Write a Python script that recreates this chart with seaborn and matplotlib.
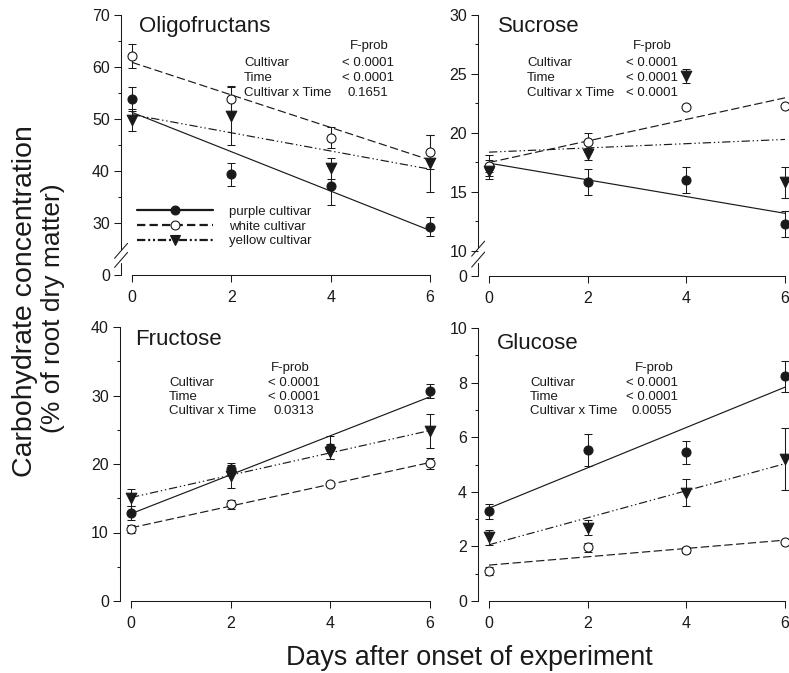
import numpy as np
import pandas as pd
import seaborn as sns
import matplotlib.pyplot as plt
from matplotlib.lines import Line2D

# 读图得到的数据：均值和误差
days = [0, 2, 4, 6]
cultivars = ['purple cultivar', 'white cultivar', 'yellow cultivar']
effects = ['Cultivar', 'Time', 'Cultivar x Time']

oligo_purple = [53.8, 39.4, 37.2, 29.3]
oligo_white = [62.1, 53.8, 46.4, 43.7]
oligo_yellow = [49.8, 50.6, 40.5, 41.5]
oligo_purple_se = [2.3, 2.2, 3.7, 1.8]
oligo_white_se = [2.3, 2.5, 2.0, 3.3]
oligo_yellow_se = [2.2, 5.6, 2.0, 5.5]
oligo_fprob = ['< 0.0001', '< 0.0001', '0.1651']

sucrose_purple = [17.1, 15.8, 16.0, 12.3]
sucrose_white = [17.2, 19.2, 22.2, 22.3]
sucrose_yellow = [16.8, 18.2, 24.8, 15.8]
sucrose_purple_se = [1.0, 1.1, 1.1, 1.1]
sucrose_white_se = [0.5, 0.8, 0.1, 0.1]
sucrose_yellow_se = [0.5, 0.5, 0.6, 1.3]
sucrose_fprob = ['< 0.0001', '< 0.0001', '< 0.0001']

fructose_purple = [12.8, 19.2, 22.4, 30.7]
fructose_white = [10.5, 14.1, 17.1, 20.1]
fructose_yellow = [15.1, 18.3, 21.8, 24.8]
fructose_purple_se = [1.0, 0.7, 1.7, 1.0]
fructose_white_se = [0.6, 0.6, 0.3, 0.8]
fructose_yellow_se = [1.2, 1.8, 1.1, 2.5]
fructose_fprob = ['< 0.0001', '< 0.0001', '0.0313']

glucose_purple = [3.28, 5.52, 5.44, 8.23]
glucose_white = [1.10, 1.97, 1.87, 2.15]
glucose_yellow = [2.33, 2.68, 3.97, 5.20]
glucose_purple_se = [0.27, 0.58, 0.43, 0.57]
glucose_white_se = [0.15, 0.17, 0.10, 0.08]
glucose_yellow_se = [0.27, 0.27, 0.50, 1.12]
glucose_fprob = ['< 0.0001', '< 0.0001', '0.0055']


def long_table(means, ses):
    rows = []
    for c, m, s in zip(cultivars, means, ses):
        for d, v, e in zip(days, m, s):
            rows.append({'day': d, 'value': v, 'se': e, 'cultivar': c})
    return pd.DataFrame(rows)


sns.set_theme(style='ticks')
plt.rcParams['font.family'] = ['Liberation Sans', 'DejaVu Sans']
plt.rcParams['lines.scale_dashes'] = False
plt.rcParams['xtick.color'] = 'k'
plt.rcParams['ytick.color'] = 'k'
plt.rcParams['axes.edgecolor'] = 'k'
plt.rcParams['text.color'] = 'k'
plt.rcParams['axes.labelcolor'] = 'k'

W, H = 789, 673
fig = plt.figure(figsize=(W / 100, H / 100), dpi=100)


def fx(x):
    return x / W


def fy(y):
    return 1 - y / H


styles = {
    'purple cultivar': dict(face='k', dashes=None, marker='o', s=42, leg_dash=None, ms=6.4),
    'white cultivar': dict(face='white', dashes=(6, 2.5), marker='o', s=42, leg_dash=(6, 3), ms=6.4),
    'yellow cultivar': dict(face='k', dashes=(6, 2, 1, 2, 1, 2), marker='v', s=58,
                            leg_dash=(6, 2, 1.5, 2, 1.5, 2), ms=7.2),
}

# 每个子图的位置、坐标轴和文字
panels = [
    dict(title='Oligofructans', data=long_table([oligo_purple, oligo_white, oligo_yellow],
                                                [oligo_purple_se, oligo_white_se, oligo_yellow_se]),
         fprob=oligo_fprob, x0=132, x6=430, top=15, bot=275, ylim=(20, 70),
         yticks=[20, 30, 40, 50, 60, 70], ylabels=['0', '30', '40', '50', '60', '70'],
         yminor=[35, 45, 55, 65], brk=(25.0, 22.25, 24.65, 22.9),
         title_xy=(139, 31.7), head=(369, 49.5), lab_x=244, val_x=368, rows=(66.5, 81, 95.5)),
    dict(title='Sucrose', data=long_table([sucrose_purple, sucrose_white, sucrose_yellow],
                                          [sucrose_purple_se, sucrose_white_se, sucrose_yellow_se]),
         fprob=sucrose_fprob, x0=489, x6=785, top=15, bot=276, ylim=(7.85, 30),
         yticks=[7.85, 10, 15, 20, 25, 30], ylabels=['0', '10', '15', '20', '25', '30'],
         yminor=[12.5, 17.5, 22.5, 27.5], brk=(10.34, 8.98, 10.17, 9.24),
         title_xy=(498, 32.3), head=(652, 49.5), lab_x=527, val_x=652, rows=(66.5, 81, 95.5)),
    dict(title='Fructose', data=long_table([fructose_purple, fructose_white, fructose_yellow],
                                           [fructose_purple_se, fructose_white_se, fructose_yellow_se]),
         fprob=fructose_fprob, x0=131, x6=430, top=327, bot=601, ylim=(0, 40),
         yticks=[0, 10, 20, 30, 40], ylabels=['0', '10', '20', '30', '40'],
         yminor=[5, 15, 25, 35], brk=None,
         title_xy=(135, 345), head=(290, 371), lab_x=169, val_x=294, rows=(386, 400.5, 414.5)),
    dict(title='Glucose', data=long_table([glucose_purple, glucose_white, glucose_yellow],
                                          [glucose_purple_se, glucose_white_se, glucose_yellow_se]),
         fprob=glucose_fprob, x0=489, x6=785, top=328, bot=601, ylim=(0, 10),
         yticks=[0, 2, 4, 6, 8, 10], ylabels=['0', '2', '4', '6', '8', '10'],
         yminor=[1, 3, 5, 7, 9], brk=None,
         title_xy=(497, 349), head=(654, 371), lab_x=530, val_x=652, rows=(386, 400.5, 414.5)),
]

xmin, xmax = -0.22, 6.3

for p in panels:
    unit = (p['x6'] - p['x0']) / 6
    left = p['x0'] + xmin * unit
    right = p['x0'] + xmax * unit
    ax = fig.add_axes([fx(left), fy(p['bot']), (right - left) / W, (p['bot'] - p['top']) / H])
    df = p['data']

    for c in cultivars:
        sub = df[df['cultivar'] == c]
        st = styles[c]
        kw = dict(color='k', lw=0.85, zorder=1)
        if st['dashes'] is not None:
            kw['dashes'] = st['dashes']
        sns.regplot(data=sub, x='day', y='value', scatter=False, ci=None, ax=ax, line_kws=kw)
        ax.errorbar(sub['day'], sub['value'], yerr=sub['se'], fmt='none', ecolor='k',
                    elinewidth=0.75, capsize=2.6, capthick=0.75, zorder=2)
        sns.scatterplot(data=sub, x='day', y='value', marker=st['marker'], s=st['s'],
                        color=st['face'], edgecolor='k', linewidth=0.8, ax=ax,
                        legend=False, zorder=3, clip_on=False)

    ax.set_xlim(xmin, xmax)
    ax.set_ylim(*p['ylim'])
    ax.set_xlabel('')
    ax.set_ylabel('')
    ax.set_xticks(days)
    ax.set_xticklabels([str(d) for d in days])
    ax.set_yticks(p['yticks'])
    ax.set_yticklabels(p['ylabels'])
    ax.set_yticks(p['yminor'], minor=True)
    ax.tick_params(axis='both', which='major', labelsize=11.5, length=5, width=0.75)
    ax.tick_params(axis='x', which='major', pad=6)
    ax.tick_params(axis='y', which='major', pad=3)
    ax.tick_params(axis='y', which='minor', length=2.5, width=0.75)
    ax.spines['top'].set_visible(False)
    ax.spines['right'].set_visible(False)
    ax.spines['bottom'].set_bounds(0, 6)
    ax.spines['bottom'].set_linewidth(0.75)
    ax.spines['left'].set_linewidth(0.75)

    # 断轴
    if p['brk'] is not None:
        up_end, low_top, s1, s2 = p['brk']
        ax.spines['left'].set_bounds(up_end, p['ylim'][1])
        ax.plot([0, 0], [p['ylim'][0], low_top], color='k', lw=0.75,
                transform=ax.get_yaxis_transform(), clip_on=False)
        inv = fig.transFigure.inverted()
        for yc in (s1, s2):
            cx, cy = ax.transData.transform((xmin, yc))
            a = inv.transform((cx - 6.5, cy - 7.5))
            b = inv.transform((cx + 6.5, cy + 7.5))
            fig.add_artist(Line2D([a[0], b[0]], [a[1], b[1]], color='k', lw=0.75))

    fig.text(fx(p['title_xy'][0]), fy(p['title_xy'][1]), p['title'], fontsize=16,
             ha='left', va='baseline')
    fig.text(fx(p['head'][0]), fy(p['head'][1]), 'F-prob', fontsize=9.5, ha='center', va='baseline')
    for lab, val, ry in zip(effects, p['fprob'], p['rows']):
        fig.text(fx(p['lab_x']), fy(ry), lab, fontsize=9.5, ha='left', va='baseline')
        fig.text(fx(p['val_x']), fy(ry), val, fontsize=9.5, ha='center', va='baseline')

    if p['title'] == 'Oligofructans':
        handles = []
        for c in cultivars:
            st = styles[c]
            h = Line2D([], [], color='k', lw=1.6, marker=st['marker'], ms=st['ms'],
                       mfc=st['face'], mec='k', mew=0.8)
            if st['leg_dash'] is not None:
                h.set_dashes(st['leg_dash'])
            handles.append(h)
        ax.legend(handles, cultivars, loc='center left',
                  bbox_to_anchor=(fx(137), fy(226.5)), bbox_transform=fig.transFigure,
                  frameon=False, fontsize=9.5, handlelength=5.75, handletextpad=1.25,
                  borderpad=0, borderaxespad=0, labelspacing=0.2, numpoints=1)

fig.text(fx(25), fy(301.5), 'Carbohydrate concentration', fontsize=20.5,
         rotation=90, ha='center', va='center')
fig.text(fx(53), fy(308.5), '(% of root dry matter)', fontsize=19,
         rotation=90, ha='center', va='center')
fig.text(fx(469), fy(658), 'Days after onset of experiment', fontsize=19.4, ha='center', va='center')

fig.savefig('out.png', dpi=100)
